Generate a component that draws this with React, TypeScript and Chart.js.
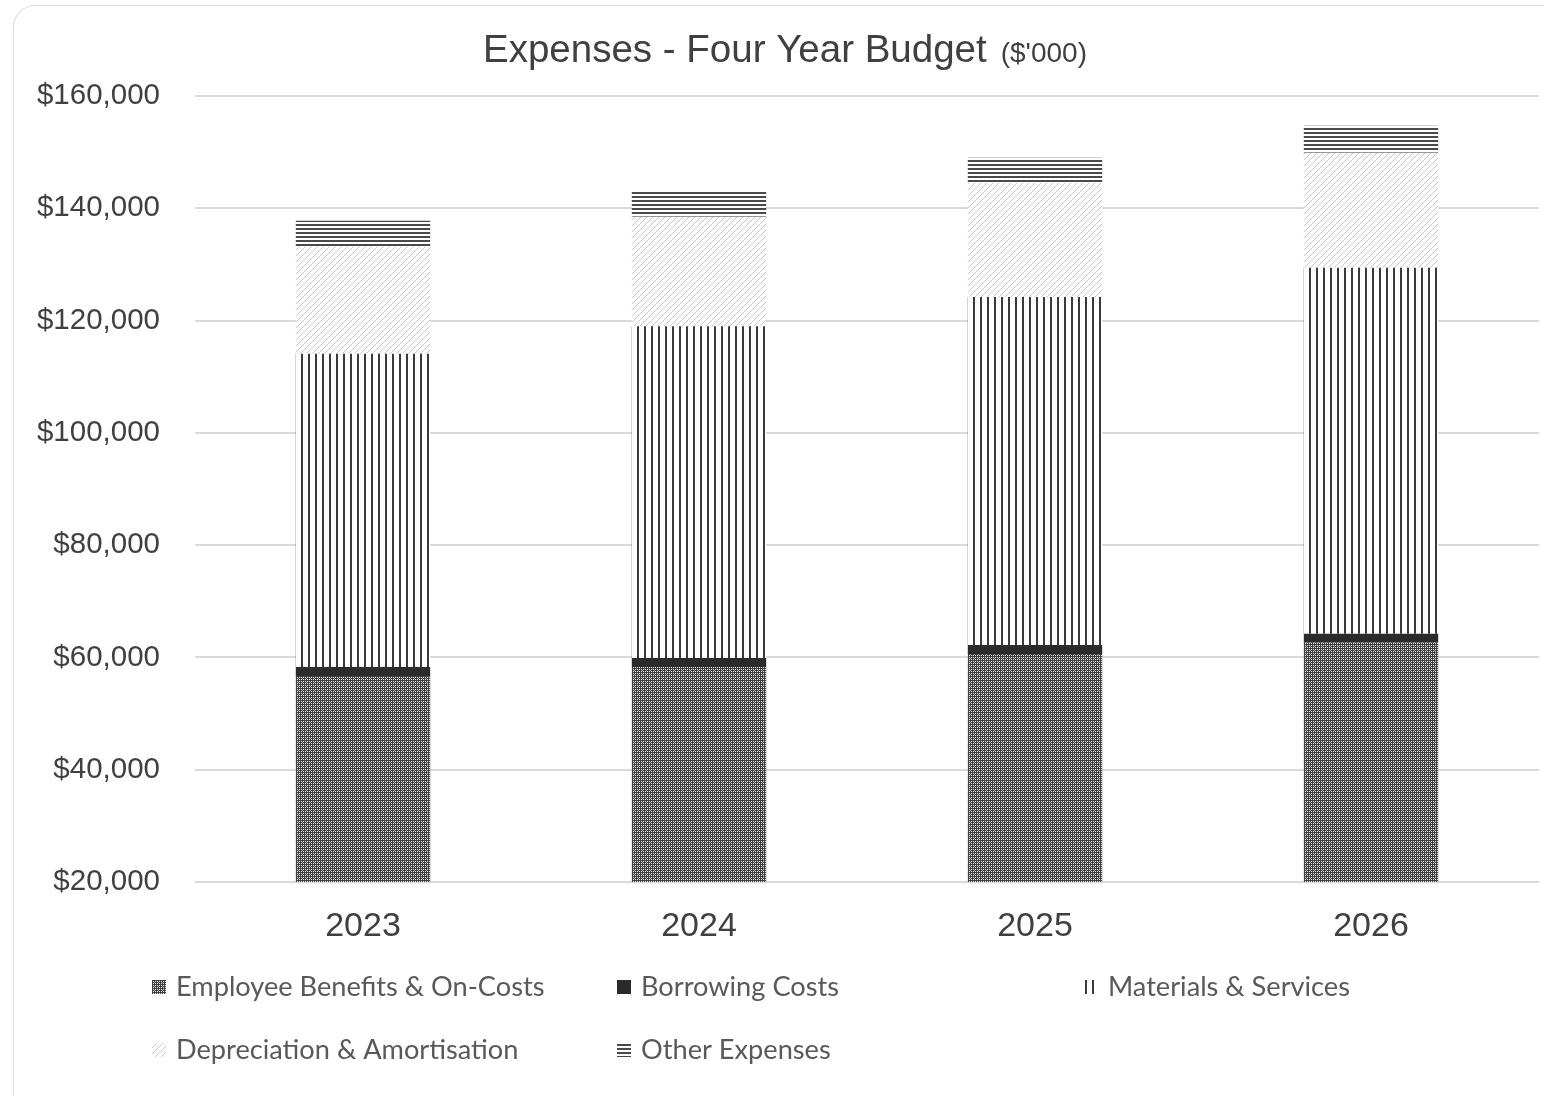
import React, { useEffect, useRef } from "react";
import { Chart, registerables } from "chart.js";

Chart.register(...registerables);

const categories = ["2023", "2024", "2025", "2026"];
const seriesNames = [
  "Employee Benefits & On-Costs",
  "Borrowing Costs",
  "Materials & Services",
  "Depreciation & Amortisation",
  "Other Expenses",
];
const employeeBenefits = [56700, 58300, 60600, 62700];
const borrowingCosts = [1600, 1600, 1600, 1500];
const materialsServices = [55800, 59100, 62000, 65200];
const depreciationAmortisation = [19100, 19500, 20300, 20500];
const otherExpenses = [4600, 4600, 4500, 4800];
const yMin = 20000;
const yMax = 160000;
const yStep = 20000;
const titleMain = "Expenses - Four Year Budget";
const titleUnit = "($'000)";

function makePattern(kind: string): CanvasPattern | string {
  const c = document.createElement("canvas");
  const ctx = c.getContext("2d")!;
  if (kind === "employee") {
    c.width = 4; c.height = 4;
    ctx.fillStyle = "#404040";
    ctx.fillRect(0, 0, 4, 4);
    ctx.fillStyle = "#e6e6e6";
    ctx.fillRect(1, 1, 1, 1);
    ctx.fillRect(3, 3, 1, 1);
    ctx.fillRect(1, 3, 1, 1);
    ctx.fillRect(3, 1, 1, 1);
    ctx.fillStyle = "#8a8a8a";
    ctx.fillRect(2, 2, 1, 1);
  } else if (kind === "borrowing") {
    return "#2b2b2b";
  } else if (kind === "materials") {
    c.width = 7; c.height = 4;
    ctx.fillStyle = "#ffffff";
    ctx.fillRect(0, 0, 7, 4);
    ctx.fillStyle = "#3a3a3a";
    ctx.fillRect(0, 0, 2, 4);
  } else if (kind === "depreciation") {
    c.width = 6; c.height = 6;
    ctx.fillStyle = "#ffffff";
    ctx.fillRect(0, 0, 6, 6);
    ctx.strokeStyle = "#c8c8c8";
    ctx.lineWidth = 1;
    ctx.beginPath();
    ctx.moveTo(-1, 7);
    ctx.lineTo(7, -1);
    ctx.stroke();
  } else {
    c.width = 4; c.height = 4;
    ctx.fillStyle = "#ffffff";
    ctx.fillRect(0, 0, 4, 4);
    ctx.fillStyle = "#4a4a4a";
    ctx.fillRect(0, 0, 4, 2);
  }
  return ctx.createPattern(c, "repeat")!;
}

export default function App() {
  const ref = useRef<HTMLCanvasElement>(null);
  useEffect(() => {
    if (!ref.current) return;
    const kinds = ["employee", "borrowing", "materials", "depreciation", "other"];
    const fills = kinds.map(makePattern);
    const values = [employeeBenefits, borrowingCosts, materialsServices, depreciationAmortisation, otherExpenses];

    const titlePlugin = {
      id: "customTitle",
      afterDraw(chart: any) {
        const ctx = chart.ctx;
        ctx.save();
        ctx.fillStyle = "#404040";
        ctx.textBaseline = "alphabetic";
        const f1 = "38.5px 'Liberation Sans', Arial, sans-serif";
        const f2 = "28px 'Liberation Sans', Arial, sans-serif";
        ctx.font = f1;
        const w1 = ctx.measureText(titleMain).width;
        ctx.font = f2;
        const w2 = ctx.measureText(titleUnit).width;
        const gap = 14;
        const total = w1 + gap + w2;
        const x0 = 785 - total / 2;
        ctx.font = f1;
        ctx.textAlign = "left";
        ctx.fillText(titleMain, x0, 62);
        ctx.font = f2;
        ctx.fillText(titleUnit, x0 + w1 + gap, 62);
        ctx.restore();
      },
    };

    const legendPlugin = {
      id: "customLegend",
      afterDraw(chart: any) {
        const ctx = chart.ctx;
        const cols = [152, 617, 1084];
        const rows = [987, 1050];
        ctx.save();
        ctx.font = "27.2px Lato, 'Open Sans', sans-serif";
        ctx.textBaseline = "middle";
        ctx.textAlign = "left";
        chart.data.datasets.forEach((ds: any, i: number) => {
          const col = i % 3;
          const row = Math.floor(i / 3);
          const x = cols[col];
          const y = rows[row];
          ctx.fillStyle = ds.backgroundColor;
          ctx.fillRect(x, y - 7, 14, 14);
          ctx.fillStyle = "#595959";
          ctx.fillText(ds.label, x + 24, y);
        });
        ctx.restore();
      },
    };

    const chart = new Chart(ref.current, {
      type: "bar",
      data: {
        labels: categories,
        datasets: seriesNames.map((name, i) => ({
          label: name,
          data: values[i],
          backgroundColor: fills[i] as any,
          borderWidth: 0,
          barPercentage: 0.4,
          categoryPercentage: 1.0,
        })),
      },
      options: {
        animation: false,
        responsive: true,
        maintainAspectRatio: false,
        layout: { padding: { top: 96, left: 0, right: 5, bottom: 134 } },
        plugins: {
          legend: { display: false },
          title: { display: false },
          tooltip: { enabled: false },
        },
        scales: {
          x: {
            stacked: true,
            grid: { display: false, drawTicks: false },
            border: { display: false },
            ticks: {
              color: "#404040",
              padding: 24,
              font: { family: "'Liberation Sans', Arial, sans-serif", size: 34 },
            },
            afterFit(scale: any) {
              scale.height = 80;
            },
          },
          y: {
            stacked: true,
            min: yMin,
            max: yMax,
            grid: { color: "#d9d9d9", lineWidth: 2, drawTicks: false },
            border: { display: false },
            ticks: {
              stepSize: yStep,
              color: "#404040",
              padding: 35,
              font: { family: "'Liberation Sans', Arial, sans-serif", size: 29.5 },
              callback: (v: any) => "$" + Number(v).toLocaleString("en-US"),
            },
            afterFit(scale: any) {
              scale.width = 195;
            },
          },
        },
      },
      plugins: [titlePlugin, legendPlugin],
    });
    return () => chart.destroy();
  }, []);

  return (
    <div style={{ position: "absolute", left: 0, top: 0, width: 1544, height: 1096, background: "#ffffff" }}>
      <div
        style={{
          position: "absolute",
          left: 13,
          top: 5,
          right: 0,
          bottom: 0,
          borderTop: "1px solid #dcdcdc",
          borderLeft: "1px solid #dcdcdc",
          borderTopLeftRadius: 22,
        }}
      />
      <canvas ref={ref} />
    </div>
  );
}
